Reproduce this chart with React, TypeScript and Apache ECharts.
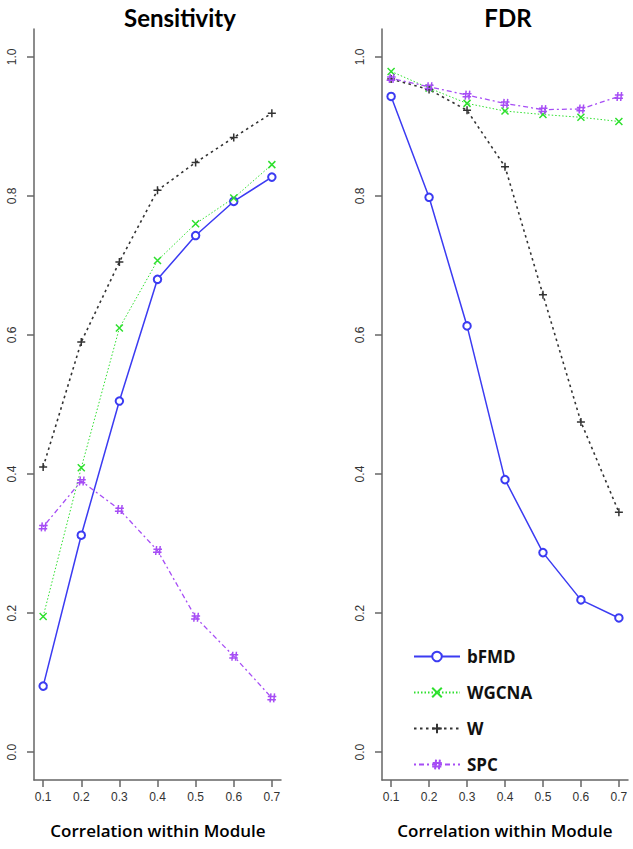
import React, { useEffect, useRef } from "react";
import * as echarts from "echarts";

const xValues = [0.1, 0.2, 0.3, 0.4, 0.5, 0.6, 0.7];
const yTicks = [0, 0.2, 0.4, 0.6, 0.8, 1.0];

const sensBFMD = [0.095, 0.312, 0.505, 0.68, 0.743, 0.792, 0.827];
const sensWGCNA = [0.195, 0.409, 0.61, 0.707, 0.76, 0.797, 0.845];
const sensW = [0.41, 0.59, 0.705, 0.808, 0.848, 0.884, 0.919];
const sensSPC = [0.324, 0.39, 0.349, 0.29, 0.194, 0.138, 0.078];

const fdrBFMD = [0.943, 0.798, 0.613, 0.392, 0.287, 0.219, 0.193];
const fdrWGCNA = [0.979, 0.955, 0.933, 0.922, 0.917, 0.913, 0.907];
const fdrW = [0.968, 0.953, 0.923, 0.842, 0.658, 0.475, 0.345];
const fdrSPC = [0.969, 0.957, 0.945, 0.933, 0.924, 0.925, 0.943];

const panelTitles = ["Sensitivity", "FDR"];
const xTitle = "Correlation within Module";
const methodNames = ["bFMD", "WGCNA", "W", "SPC"];

const X_SYMBOL = "path://M0,0L10,10M10,0L0,10";
const PLUS_SYMBOL = "path://M5,0L5,10M0,5L10,5";
const HASH_SYMBOL = "path://M4,0L3,10M8,0L7,10M0.5,3.5L10,3.5M0,7L9.5,7";

const styles = [
  { color: "#3b3bf2", type: "solid" as any, width: 1.5, symbol: "emptyCircle", size: 7.5 },
  { color: "#2ee02e", type: [1.5, 2] as any, width: 1, symbol: X_SYMBOL, size: 7 },
  { color: "#333333", type: [2.5, 3.5] as any, width: 1.6, symbol: PLUS_SYMBOL, size: 8 },
  { color: "#a64df5", type: [2, 3, 5, 3] as any, width: 1.3, symbol: HASH_SYMBOL, size: 9 },
];

function makeSeries(name: string, data: number[], idx: number, s: any) {
  return {
    name,
    type: "line",
    xAxisIndex: idx,
    yAxisIndex: idx,
    data: xValues.map((x, i) => [x, data[i]]),
    symbol: s.symbol,
    symbolSize: s.size,
    showSymbol: true,
    lineStyle: { color: s.color, type: s.type, width: s.width },
    itemStyle: { color: s.color, borderColor: s.color, borderWidth: 1.5 },
    emphasis: { disabled: true },
    z: 3,
  };
}

export default function App() {
  const ref = useRef<HTMLDivElement>(null);
  useEffect(() => {
    if (!ref.current) return;
    const chart = echarts.init(ref.current, null, { renderer: "svg" });
    const grids = [
      { left: 34, top: 29, width: 247, height: 751 },
      { left: 382, top: 29, width: 246, height: 751 },
    ];
    const axisLineStyle = { color: "#666", width: 1.5 };
    const xAxes = grids.map((_, i) => ({
      type: "value",
      gridIndex: i,
      min: 0.076,
      max: 0.724,
      splitLine: { show: false },
      axisLine: { show: true, onZero: false, lineStyle: axisLineStyle },
      axisTick: { show: true, inside: false, length: 7, customValues: xValues, lineStyle: axisLineStyle },
      axisLabel: {
        customValues: xValues,
        formatter: (v: number) => v.toFixed(1),
        color: "#333",
        fontFamily: "Liberation Sans, Arial, sans-serif",
        fontSize: 12,
        margin: 11,
      },
    }));
    const yAxes = grids.map((_, i) => ({
      type: "value",
      gridIndex: i,
      min: -0.04,
      max: 1.04,
      splitLine: { show: false },
      axisLine: { show: true, onZero: false, lineStyle: axisLineStyle },
      axisTick: { show: true, inside: false, length: 7, customValues: yTicks, lineStyle: axisLineStyle },
      axisLabel: {
        customValues: yTicks,
        formatter: (v: number) => v.toFixed(1),
        rotate: 90,
        color: "#333",
        fontFamily: "Liberation Sans, Arial, sans-serif",
        fontSize: 12,
        margin: 16,
      },
    }));
    const sensData = [sensBFMD, sensWGCNA, sensW, sensSPC];
    const fdrData = [fdrBFMD, fdrWGCNA, fdrW, fdrSPC];
    const series: any[] = [];
    methodNames.forEach((n, k) => series.push(makeSeries(n, sensData[k], 0, styles[k])));
    methodNames.forEach((n, k) => series.push(makeSeries(n, fdrData[k], 1, styles[k])));

    const titleFont = "bold 24px Lato, 'Open Sans', sans-serif";
    const xTitleFont = "600 17px 'Open Sans', Lato, sans-serif";
    chart.setOption({
      animation: false,
      backgroundColor: "#ffffff",
      grid: grids,
      xAxis: xAxes,
      yAxis: yAxes,
      legend: {
        data: methodNames,
        orient: "vertical",
        left: 408,
        top: 643,
        itemWidth: 46,
        itemHeight: 12,
        itemGap: 19,
        textStyle: {
          fontFamily: "'Open Sans', Lato, sans-serif",
          fontWeight: 700,
          fontSize: 17,
          color: "#111",
          padding: [0, 0, 0, 2],
        },
        selectedMode: false,
      },
      series,
      graphic: [
        { type: "text", x: 180, y: 17, style: { text: panelTitles[0], font: titleFont, textAlign: "center", textVerticalAlign: "middle", fill: "#000" } },
        { type: "text", x: 508, y: 17, style: { text: panelTitles[1], font: titleFont, textAlign: "center", textVerticalAlign: "middle", fill: "#000" } },
        { type: "text", x: 158, y: 830, style: { text: xTitle, font: xTitleFont, textAlign: "center", textVerticalAlign: "middle", fill: "#000" } },
        { type: "text", x: 505, y: 830, style: { text: xTitle, font: xTitleFont, textAlign: "center", textVerticalAlign: "middle", fill: "#000" } },
      ],
    });
    return () => chart.dispose();
  }, []);
  return (
    <div
      ref={ref}
      style={{ position: "fixed", left: 0, top: 0, width: 633, height: 849, background: "#fff" }}
    />
  );
}
